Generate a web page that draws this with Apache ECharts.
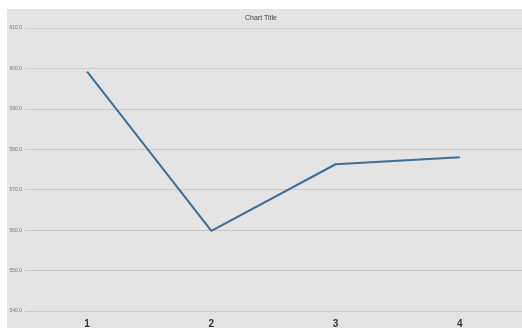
<!DOCTYPE html>
<html>
<head>
<meta charset="utf-8">
<script src="https://cdn.jsdelivr.net/npm/echarts@6/dist/echarts.min.js"></script>
<style>
  html, body { margin: 0; padding: 0; background: #ffffff; }
  #chart { width: 522px; height: 328px; }
</style>
</head>
<body>
<div id="chart"></div>
<script>
// Categories along the x axis
const categories = ['1', '2', '3', '4'];
// Line series values
const values = [599.2, 559.8, 576.3, 578.0];
// Value axis range
const yMin = 540;
const yMax = 610;
const yStep = 10;

const chart = echarts.init(document.getElementById('chart'));
chart.setOption({
  animation: false,
  backgroundColor: '#ffffff',
  graphic: [{
    type: 'rect',
    z: -10,
    shape: { x: 7, y: 9, width: 515, height: 319 },
    style: { fill: '#e4e4e4' }
  }],
  title: {
    text: 'Chart Title',
    left: 'center',
    top: 10,
    textStyle: { fontSize: 7, fontWeight: 'normal', color: '#444', fontFamily: 'Liberation Sans' }
  },
  grid: { left: 25, right: 0, top: 28, bottom: 17, outerBoundsMode: 'none' },
  xAxis: {
    type: 'category',
    data: categories,
    boundaryGap: true,
    axisLine: { show: false },
    axisTick: { show: false },
    axisLabel: { margin: 8, fontSize: 10, color: '#333', fontWeight: 'bold', fontFamily: 'Liberation Sans' }
  },
  yAxis: {
    type: 'value',
    min: yMin,
    max: yMax,
    interval: yStep,
    axisLine: { show: false },
    axisTick: { show: false },
    axisLabel: {
      margin: 3,
      fontSize: 5,
      color: '#777',
      fontFamily: 'Liberation Sans',
      formatter: v => v.toFixed(1)
    },
    splitLine: { lineStyle: { color: '#cacaca', width: 1 } }
  },
  series: [{
    type: 'line',
    data: values,
    symbol: 'none',
    lineStyle: { color: '#3b6f97', width: 2 }
  }]
});
</script>
</body>
</html>
